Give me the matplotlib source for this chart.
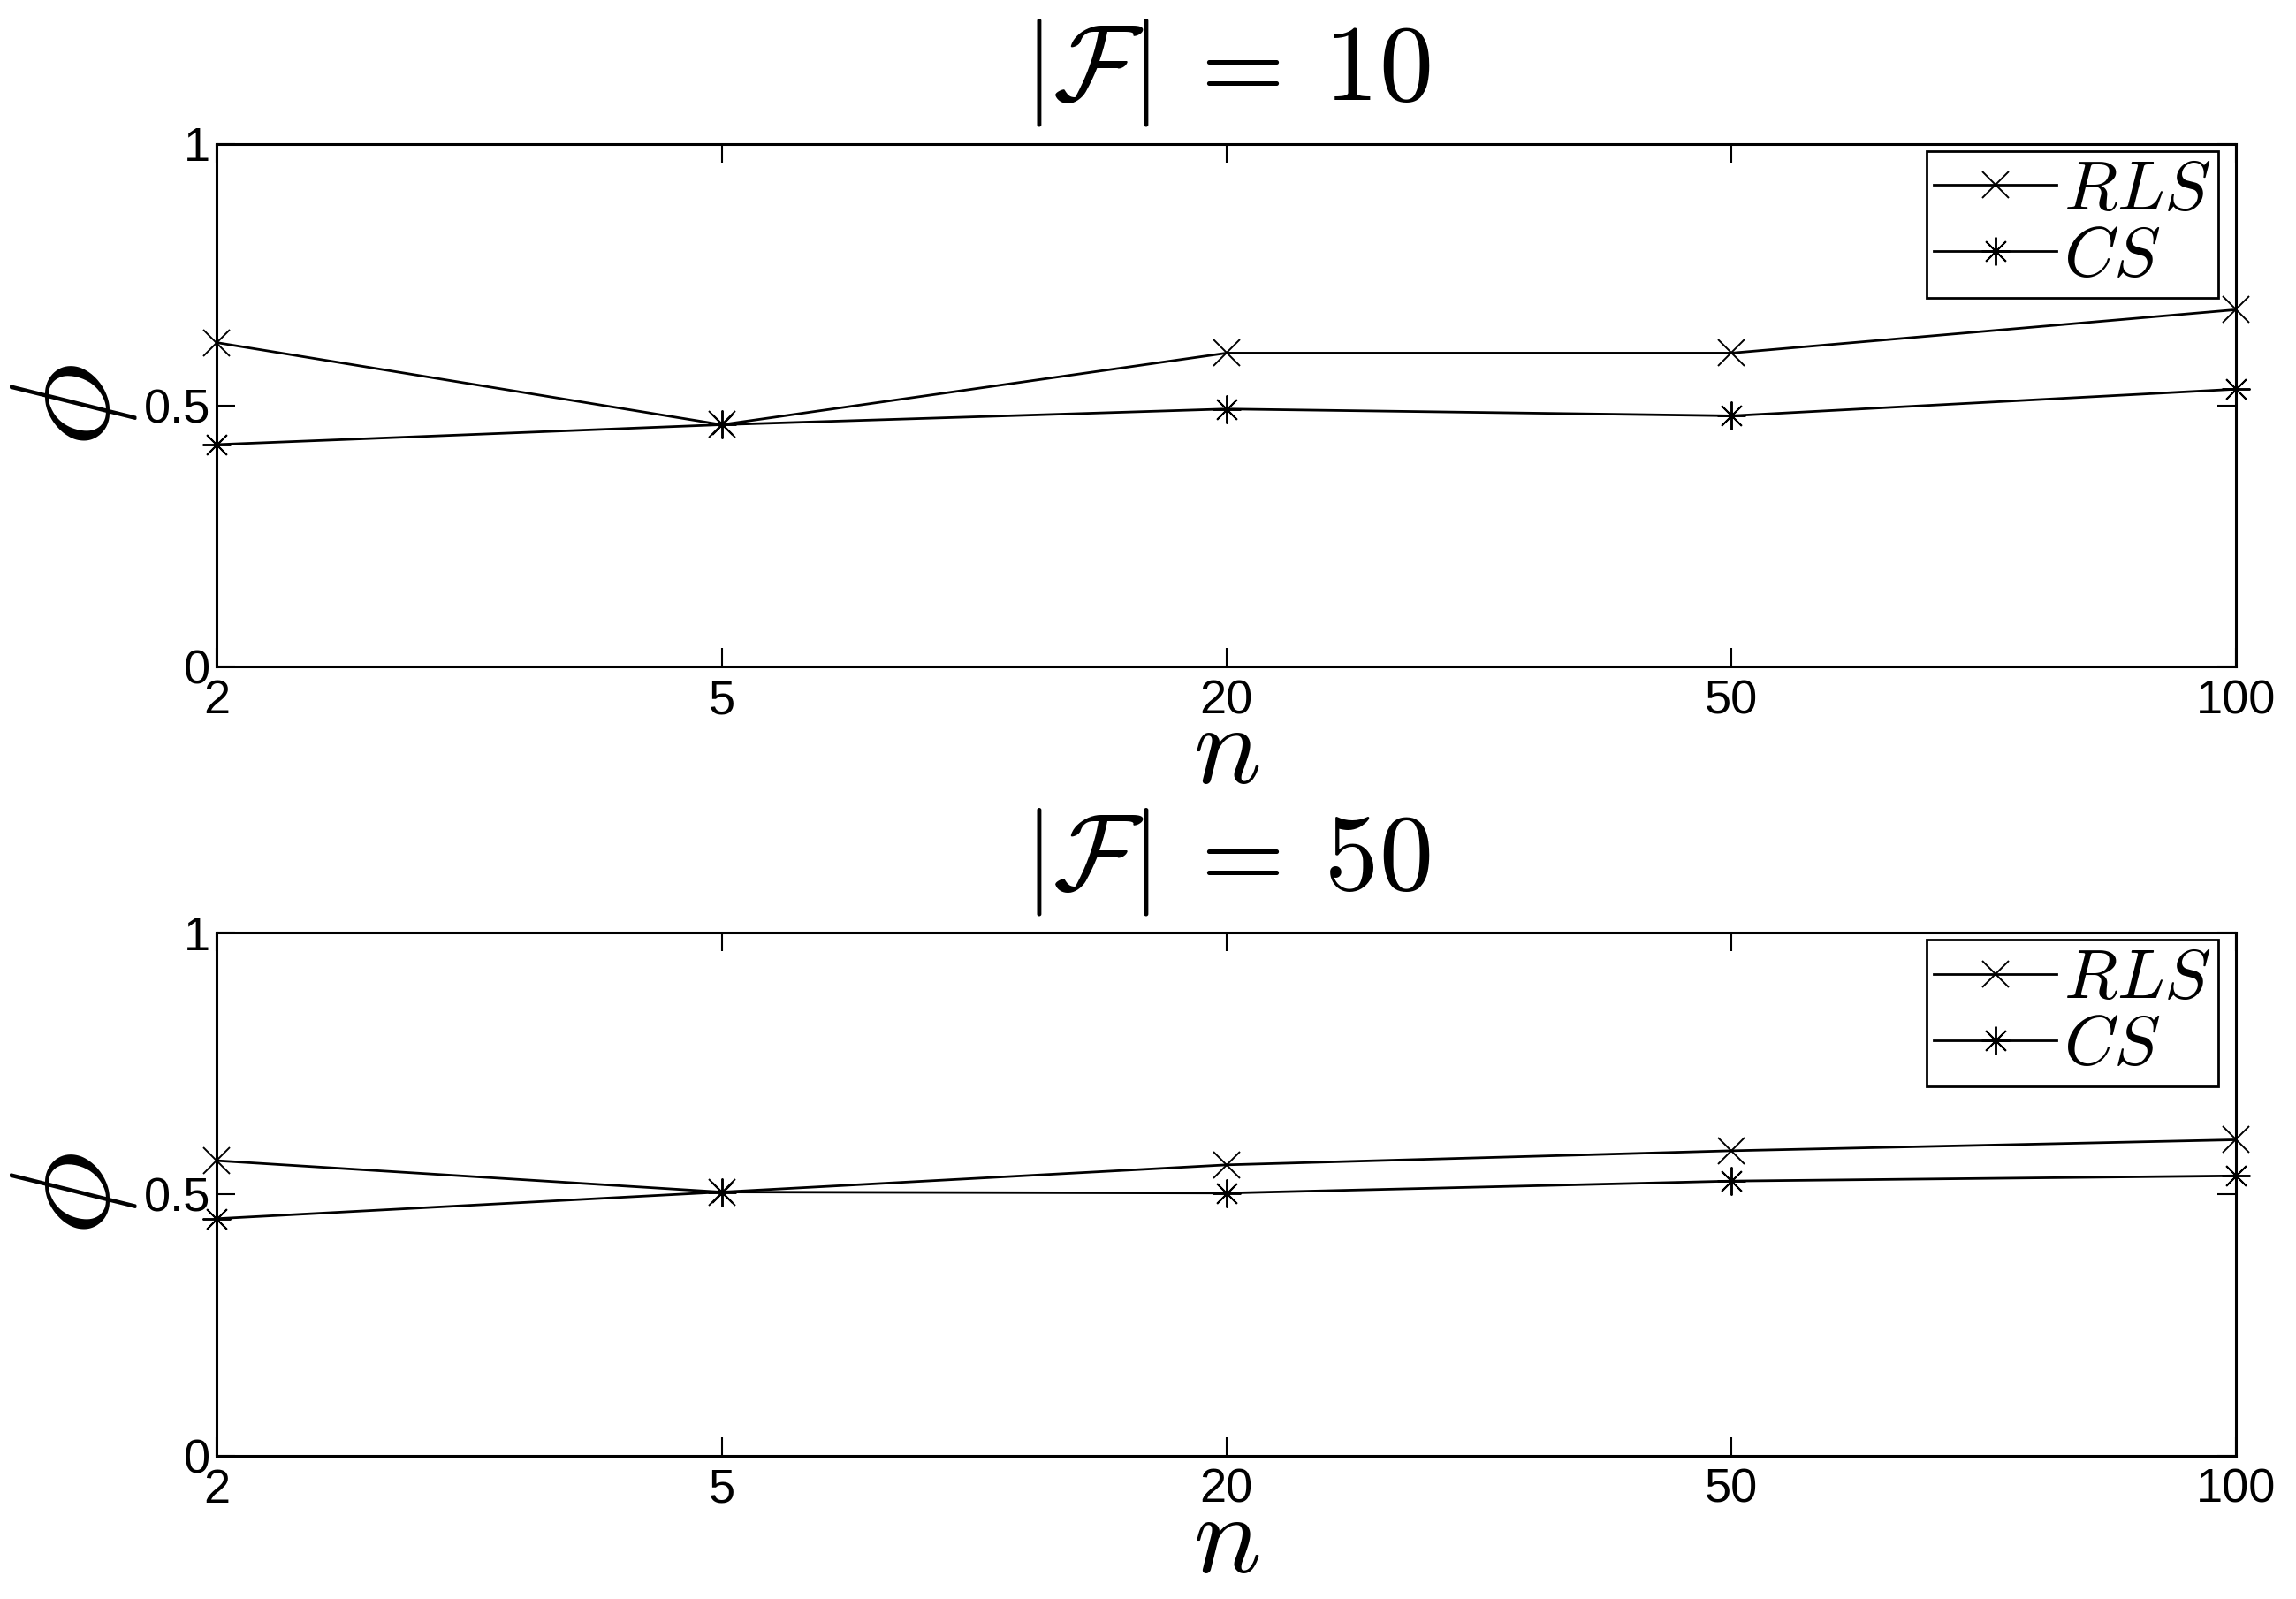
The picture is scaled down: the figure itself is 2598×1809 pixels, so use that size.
import matplotlib
matplotlib.use('Agg')
from matplotlib import pyplot as plt

plt.rcParams['mathtext.fontset'] = 'cm'
plt.rcParams['font.family'] = ['Liberation Sans', 'DejaVu Sans']

n_labels = ['2', '5', '20', '50', '100']
pos = [0, 1, 2, 3, 4]

# |F| = 10
rls_10 = [0.62, 0.463, 0.60, 0.60, 0.683]
cs_10 = [0.425, 0.463, 0.493, 0.48, 0.531]

# |F| = 50
rls_50 = [0.564, 0.504, 0.556, 0.583, 0.604]
cs_50 = [0.453, 0.504, 0.502, 0.525, 0.535]

panels = [('10', rls_10, cs_10), ('50', rls_50, cs_50)]
asterisk = (8, 2, 0)

fig = plt.figure(figsize=(25.98, 18.09), dpi=100)
rects = [[0.0944, 0.583, 0.8796, 0.327], [0.0944, 0.0897, 0.8796, 0.327]]

for rect, (size, rls, cs) in zip(rects, panels):
    ax = fig.add_axes(rect)
    ax.plot(pos, rls, color='black', lw=2, marker='x', ms=21, mew=1.4,
            label=r'$RLS$', clip_on=False)
    ax.plot(pos, cs, color='black', lw=2, marker=asterisk, ms=23, mew=1.4,
            label=r'$CS$', clip_on=False)
    ax.set_xlim(0, 4)
    ax.set_ylim(0, 1)
    ax.set_xticks(pos)
    ax.set_xticklabels(n_labels)
    ax.set_yticks([0, 0.5, 1])
    ax.set_yticklabels(['0', '0.5', '1'])
    ax.tick_params(direction='in', top=True, right=True, length=15, width=1.5,
                   labelsize=39)
    ax.tick_params(axis='x', pad=10)
    ax.tick_params(axis='y', pad=5)
    for s in ax.spines.values():
        s.set_linewidth(2.2)
    ax.set_title(r'$|\mathcal{F}|\:=\:%s$' % size, fontsize=88, pad=36)
    ax.set_xlabel(r'$n$', fontsize=92, labelpad=-18)
    ax.set_ylabel(r'$\phi$', fontsize=115, labelpad=4)
    leg = ax.legend(loc='upper right', bbox_to_anchor=(0.991, 0.986), borderaxespad=0,
                    fontsize=57, frameon=True, fancybox=False, edgecolor='black',
                    framealpha=1, handlelength=1.75, handletextpad=0.1,
                    labelspacing=0.0, borderpad=0.1)
    leg.get_frame().set_linewidth(2)

plt.savefig('out.png', dpi=100)
